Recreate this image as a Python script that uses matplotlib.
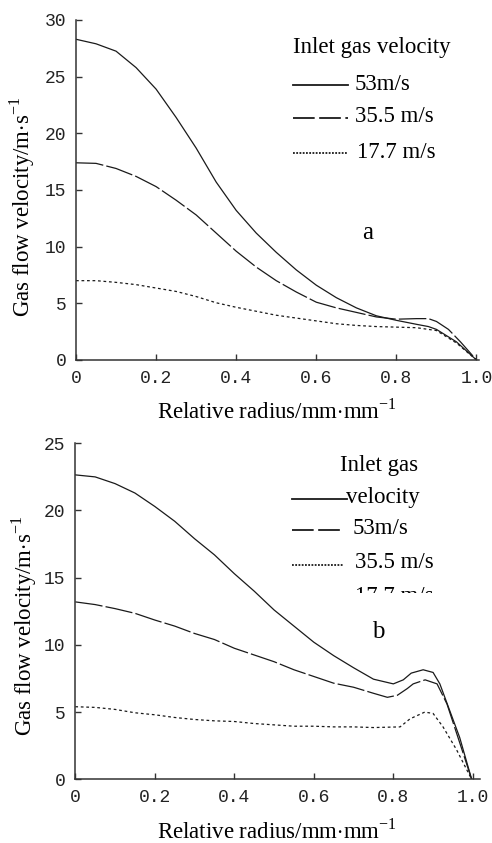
import matplotlib
matplotlib.use("Agg")
import matplotlib.pyplot as plt
from matplotlib.lines import Line2D
from matplotlib.transforms import Bbox, TransformedBbox

plt.rcParams['font.family'] = ['Liberation Serif', 'DejaVu Serif']
plt.rcParams['mathtext.fontset'] = 'custom'
plt.rcParams['mathtext.rm'] = 'Liberation Serif'

# ---- data (a): inlet gas velocity 53 / 35.5 / 17.7 m/s
xa_53 = [0, 0.05, 0.1, 0.15, 0.2, 0.25, 0.3, 0.35, 0.4, 0.45, 0.5, 0.55, 0.6, 0.65, 0.7, 0.75, 0.8, 0.85, 0.88, 0.9, 0.95, 1.0]
ya_53 = [28.3, 27.9, 27.25, 25.8, 23.9, 21.4, 18.7, 15.7, 13.2, 11.2, 9.5, 7.95, 6.6, 5.5, 4.6, 3.9, 3.5, 3.15, 2.95, 2.7, 1.6, 0]
xa_35 = [0, 0.05, 0.1, 0.15, 0.2, 0.25, 0.3, 0.35, 0.4, 0.45, 0.5, 0.55, 0.6, 0.65, 0.7, 0.75, 0.8, 0.85, 0.88, 0.9, 0.93, 0.96, 1.0]
ya_35 = [17.4, 17.35, 16.9, 16.2, 15.3, 14.1, 12.8, 11.2, 9.6, 8.2, 7.0, 6.0, 5.1, 4.6, 4.2, 3.8, 3.6, 3.65, 3.65, 3.4, 2.7, 1.6, 0]
xa_17 = [0, 0.05, 0.1, 0.15, 0.2, 0.25, 0.3, 0.35, 0.4, 0.45, 0.5, 0.55, 0.6, 0.65, 0.7, 0.75, 0.8, 0.85, 0.9, 0.95, 1.0]
ya_17 = [7.0, 7.0, 6.85, 6.65, 6.35, 6.05, 5.6, 5.05, 4.65, 4.3, 3.95, 3.7, 3.45, 3.2, 3.05, 2.95, 2.9, 2.85, 2.6, 1.5, 0]

# ---- data (b)
xb_53 = [0, 0.05, 0.1, 0.15, 0.2, 0.25, 0.3, 0.35, 0.4, 0.45, 0.5, 0.55, 0.6, 0.65, 0.7, 0.75, 0.8, 0.825, 0.845, 0.875, 0.9, 0.917, 0.942, 0.967, 0.997]
yb_53 = [22.65, 22.5, 22.0, 21.3, 20.3, 19.2, 17.9, 16.7, 15.3, 14.0, 12.6, 11.4, 10.2, 9.2, 8.3, 7.45, 7.1, 7.4, 7.9, 8.15, 7.95, 7.1, 5.1, 3.1, 0]
xb_35 = [0, 0.05, 0.1, 0.15, 0.2, 0.25, 0.3, 0.35, 0.4, 0.45, 0.5, 0.55, 0.6, 0.65, 0.7, 0.75, 0.785, 0.81, 0.835, 0.85, 0.88, 0.91, 0.935, 0.965, 0.997]
yb_35 = [13.2, 13.0, 12.7, 12.35, 11.85, 11.4, 10.85, 10.4, 9.75, 9.25, 8.75, 8.15, 7.65, 7.15, 6.85, 6.4, 6.1, 6.25, 6.75, 7.1, 7.4, 7.1, 5.6, 2.9, 0]
xb_17 = [0, 0.05, 0.1, 0.15, 0.2, 0.25, 0.3, 0.35, 0.4, 0.45, 0.5, 0.55, 0.6, 0.65, 0.7, 0.75, 0.817, 0.842, 0.879, 0.9, 0.925, 0.959, 0.997]
yb_17 = [5.4, 5.35, 5.2, 4.95, 4.8, 4.6, 4.45, 4.35, 4.3, 4.15, 4.05, 3.95, 3.95, 3.9, 3.9, 3.85, 3.9, 4.5, 5.0, 4.9, 3.9, 2.2, 0]

xticks = [0, 0.2, 0.4, 0.6, 0.8, 1.0]
xticklabels = ['0', '0.2', '0.4', '0.6', '0.8', '1.0']
yticks_a = [0, 5, 10, 15, 20, 25, 30]
yticks_b = [0, 5, 10, 15, 20, 25]

W, H = 492, 843
fig = plt.figure(figsize=(W / 100, H / 100), dpi=100)

def fx(px):
    return px / W

def fy(py):
    return 1 - py / H

lc = '#1a1a1a'
dash_plot = (0, (22, 2.5))
dot_plot = (0, (2.2, 2.2))


def style_axes(ax, yticks, xmax, ymax):
    ax.set_xlim(0, xmax)
    ax.set_ylim(0, ymax)
    for s in ['top', 'right']:
        ax.spines[s].set_visible(False)
    for s in ['left', 'bottom']:
        ax.spines[s].set_linewidth(1.1)
        ax.spines[s].set_color('#333333')
    ax.set_xticks(xticks)
    ax.set_xticklabels(xticklabels)
    ax.set_yticks(yticks)
    ax.set_yticklabels([str(v) for v in yticks])
    ax.tick_params(direction='in', length=4, width=1, color='#333333', labelsize=13, pad=7)
    for lab in ax.get_xticklabels() + ax.get_yticklabels():
        lab.set_fontfamily('Liberation Mono')
        lab.set_color('#222222')


# top panel
ax1 = fig.add_axes([fx(76), fy(360), (478.5 - 76) / W, 340 / H])
ax1.plot(xa_53, ya_53, color=lc, lw=0.9)
ax1.plot(xa_35, ya_35, color=lc, lw=0.9, linestyle=dash_plot)
ax1.plot(xa_17, ya_17, color=lc, lw=0.9, linestyle=dot_plot)
style_axes(ax1, yticks_a, 1.005, 30)

# bottom panel
ax2 = fig.add_axes([fx(75.3), fy(779.3), (480 - 75.3) / W, 336 / H])
ax2.plot(xb_53, yb_53, color=lc, lw=0.9)
ax2.plot(xb_35, yb_35, color=lc, lw=0.9, linestyle=dash_plot)
ax2.plot(xb_17, yb_17, color=lc, lw=0.9, linestyle=dot_plot)
style_axes(ax2, yticks_b, 1.018, 25)

fs = 16.5
ylab = r'Gas flow velocity/m$\cdot$s$^{\mathregular{-1}}$'
xlab = r'Relative radius/mm$\cdot$mm$^{\mathregular{-1}}$'
fig.text(fx(22), fy(207), ylab, rotation=90, ha='center', va='center', fontsize=fs)
fig.text(fx(277), fy(411), xlab, ha='center', va='center', fontsize=fs)
fig.text(fx(24), fy(626), ylab, rotation=90, ha='center', va='center', fontsize=fs)
fig.text(fx(277), fy(831), xlab, ha='center', va='center', fontsize=fs)


def leg_line(x0, x1, y, ls, lw=1.3):
    fig.add_artist(Line2D([fx(x0), fx(x1)], [fy(y), fy(y)], color=lc, lw=lw, linestyle=ls))


leg_dash = (0, (12, 2.5))
leg_dot = (0, (1, 0.8))

# legend (a)
fig.text(fx(293), fy(47), 'Inlet gas velocity', ha='left', va='center', fontsize=fs)
leg_line(293, 348, 85, '-')
fig.text(fx(355), fy(84), '53m/s', ha='left', va='center', fontsize=fs)
leg_line(293, 348, 118, leg_dash)
fig.text(fx(355), fy(117), '35.5 m/s', ha='left', va='center', fontsize=fs)
leg_line(293, 348, 153, leg_dot)
fig.text(fx(357), fy(152), '17.7 m/s', ha='left', va='center', fontsize=fs)
fig.text(fx(368), fy(233), 'a', ha='center', va='center', fontsize=18)

# legend (b), last entry cut off as in the original
fig.text(fx(340), fy(465), 'Inlet gas', ha='left', va='center', fontsize=fs)
leg_line(292, 347, 499, '-')
fig.text(fx(346), fy(497), 'velocity', ha='left', va='center', fontsize=fs)
leg_line(292, 343, 530, leg_dash)
fig.text(fx(353), fy(528), '53m/s', ha='left', va='center', fontsize=fs)
leg_line(292, 343, 565, leg_dot)
fig.text(fx(355), fy(563), '35.5 m/s', ha='left', va='center', fontsize=fs)
t = fig.text(fx(355), fy(602), '17.7 m/s', ha='left', va='baseline', fontsize=fs)
t.set_clip_box(TransformedBbox(Bbox([[0, fy(593)], [1, 1]]), fig.transFigure))
fig.text(fx(378), fy(632), 'b', ha='center', va='center', fontsize=18)

fig.savefig('out.png', dpi=100)
